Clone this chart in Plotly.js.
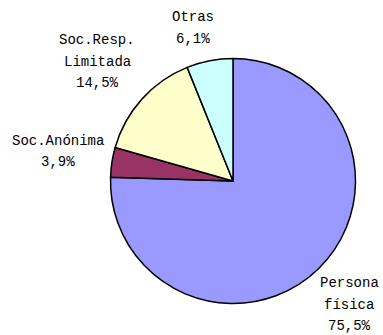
<!DOCTYPE html>
<html>
<head>
<meta charset="utf-8">
<script src="https://cdn.plot.ly/plotly-3.0.1.min.js"></script>
<style>html,body{margin:0;padding:0;background:#fff;}#chart{width:383px;height:335px;}</style>
</head>
<body>
<div id="chart"></div>
<script>
const categories = ["Persona física", "Soc.Anónima", "Soc.Resp. Limitada", "Otras"];
const labelLines = [["Persona", "física"], ["Soc.Anónima"], ["Soc.Resp.", "Limitada"], ["Otras"]];
const values = [75.5, 3.9, 14.5, 6.1];
const colors = ["#9999FF", "#993366", "#FFFFCC", "#CCFFFF"];

// label layout: centre x (px) and first-line y (px) for each category
const labelPx = [[349, 283], [58, 141], [97, 40], [193, 17]];
const lineGap = 21.5;
const W = 383, H = 335;

const fmt = v => v.toFixed(1).replace(".", ",") + "%";

const annotations = [];
categories.forEach((c, i) => {
  const lines = labelLines[i].concat([fmt(values[i])]);
  lines.forEach((t, k) => {
    annotations.push({
      xref: "paper", yref: "paper",
      x: labelPx[i][0] / W, y: 1 - (labelPx[i][1] + k * lineGap) / H,
      xanchor: "center", yanchor: "middle",
      showarrow: false,
      text: t,
      font: {family: "Liberation Mono, Courier New, monospace", size: 14, color: "#000"}
    });
  });
});

const data = [{
  type: "pie",
  labels: categories,
  values: values,
  sort: false,
  direction: "clockwise",
  rotation: 0,
  textinfo: "none",
  hoverinfo: "none",
  marker: {colors: colors, line: {color: "#000", width: 1.5}},
  domain: {x: [0.2885, 0.9282], y: [0.094, 0.8254]}
}];

const layout = {
  width: W, height: H,
  margin: {l: 0, r: 0, t: 0, b: 0},
  paper_bgcolor: "#fff",
  showlegend: false,
  annotations: annotations
};

Plotly.newPlot("chart", data, layout, {displayModeBar: false, staticPlot: true});
</script>
</body>
</html>
